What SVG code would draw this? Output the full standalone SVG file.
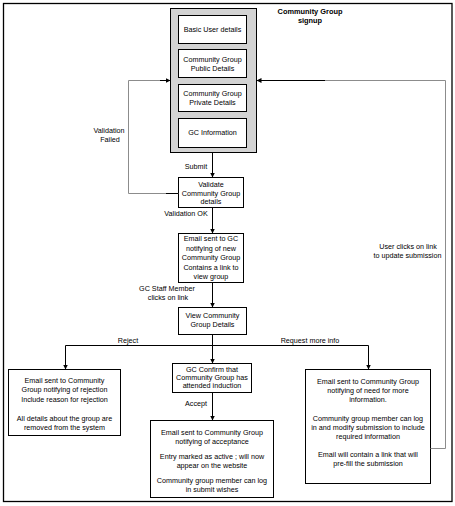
<svg xmlns="http://www.w3.org/2000/svg" width="455" height="506" viewBox="0 0 455 506">
<defs>
<marker id="ah" viewBox="0 0 10 10" refX="10" refY="5" markerWidth="5" markerHeight="5" orient="auto" markerUnits="userSpaceOnUse">
<path d="M0,0 L10,5 L0,10 Z" fill="#000"/>
</marker>
<style>
text{font-family:"Liberation Sans",Arial,sans-serif;font-size:7.2px;fill:#000;text-anchor:middle;dominant-baseline:central}
.title{font-weight:bold;font-size:7.4px}
.box{fill:#fff;stroke:#000;stroke-width:1}
.cont{fill:#d3d3d3;stroke:#000;stroke-width:1}
.ln{fill:none;stroke:#000;stroke-width:1}
.gl{fill:none;stroke:#8c8c8c;stroke-width:1}
</style>
</defs>
<rect x="0" y="0" width="455" height="506" fill="#fff"/>
<rect x="3.5" y="3.5" width="448.5" height="498" fill="none" stroke="#000" stroke-width="1.3"/>
<g id="title">
<text class="title" x="310" y="11">Community Group</text>
<text class="title" x="310" y="20">signup</text>
</g>
<g id="signup-form">
<rect class="cont" x="170.5" y="8.5" width="86" height="144"/>
<g id="basic-user"><rect class="box" x="178.5" y="15.5" width="68" height="28"/><text x="212.5" y="29.5">Basic User details</text></g>
<g id="public-details"><rect class="box" x="178.5" y="49.5" width="68" height="28"/><text x="212.5" y="59.5">Community Group</text><text x="212.5" y="68.5">Public Details</text></g>
<g id="private-details"><rect class="box" x="178.5" y="84.5" width="68" height="27"/><text x="212.5" y="93.5">Community Group</text><text x="212.5" y="102.5">Private Details</text></g>
<g id="gc-info"><rect class="box" x="178.5" y="118.5" width="68" height="29"/><text x="212.5" y="132.5">GC Information</text></g>
</g>
<g id="validate"><rect class="box" x="178.5" y="177.5" width="65" height="30"/><text x="211" y="184.5">Validate</text><text x="211" y="193">Community Group</text><text x="211" y="201.5">details</text></g>
<g id="email-gc"><rect class="box" x="178.5" y="233.5" width="65" height="49"/><text x="211" y="238.5">Email sent to GC</text><text x="211" y="248">notifying of new</text><text x="211" y="257.5">Community Group</text><text x="211" y="267">Contains a link to</text><text x="211" y="276.5">view group</text></g>
<g id="view-details"><rect class="box" x="178.5" y="307.5" width="68" height="27"/><text x="212.5" y="315.5">View Community</text><text x="212.5" y="324.5">Group Details</text></g>
<g id="reject-email"><rect class="box" x="8.5" y="369.5" width="112" height="66"/><text x="64.5" y="380">Email sent to Community</text><text x="64.5" y="389.5">Group notifying of rejection</text><text x="64.5" y="399">Include reason for rejection</text><text x="64.5" y="418">All details about the group are</text><text x="64.5" y="427.5">removed from the system</text></g>
<g id="gc-confirm"><rect class="box" x="172.5" y="363.5" width="79" height="29"/><text x="212" y="369.5">GC Confirm that</text><text x="212" y="377.5">Community Group has</text><text x="212" y="385.5">attended induction</text></g>
<g id="accept-email"><rect class="box" x="150.5" y="420.5" width="123" height="77"/><text x="212" y="432">Email sent to Community Group</text><text x="212" y="441">notifying of acceptance</text><text x="212" y="456">Entry marked as active ; will now</text><text x="212" y="465">appear on the website</text><text x="212" y="480">Community group member can log</text><text x="212" y="489">in submit wishes</text></g>
<g id="more-info-email"><rect class="box" x="305.5" y="369.5" width="125" height="114"/><text x="368" y="381">Email sent to Community Group</text><text x="368" y="390">notifying of need for more</text><text x="368" y="399">information.</text><text x="368" y="418">Community group member can log</text><text x="368" y="427">in and modify submission to include</text><text x="368" y="436">required information</text><text x="368" y="454">Email will contain a link that will</text><text x="368" y="463">pre-fill the submission</text></g>
<g id="connectors">
<path class="gl" d="M178.5,193.5 H128.5 V80.5 H165"/>
<path class="ln" d="M178.5,193.5 H166"/>
<path class="ln" d="M160,80.5 H170.5" marker-end="url(#ah)"/>
<path class="gl" d="M430.5,448.5 H445.5 V80.5 H325"/>
<path class="ln" d="M325,80.5 H256.5" marker-end="url(#ah)"/>
<path class="ln" d="M212.5,152.5 V177.5" marker-end="url(#ah)"/>
<path class="ln" d="M212.5,207.5 V233.5" marker-end="url(#ah)"/>
<path class="ln" d="M212.5,282.5 V307.5" marker-end="url(#ah)"/>
<path class="ln" d="M212.5,334.5 V363.5" marker-end="url(#ah)"/>
<path class="ln" d="M65.5,369.5 V345.5 H368.5 V369.5" marker-end="url(#ah)"/>
<path class="ln" d="M65.5,350 V369.5" marker-end="url(#ah)"/>
<path class="ln" d="M212.5,392.5 V420.5" marker-end="url(#ah)"/>
<text x="109" y="130">Validation</text>
<text x="110" y="139.5">Failed</text>
<text x="196" y="166">Submit</text>
<text x="186" y="213.5">Validation OK</text>
<text x="167" y="288">GC Staff Member</text>
<text x="168" y="297">clicks on link</text>
<text x="128" y="340.5">Reject</text>
<text x="310" y="340.5">Request more info</text>
<text x="196" y="403.5">Accept</text>
<text x="408" y="246">User clicks on link</text>
<text x="407.5" y="255">to update submission</text>
</g>
</svg>
